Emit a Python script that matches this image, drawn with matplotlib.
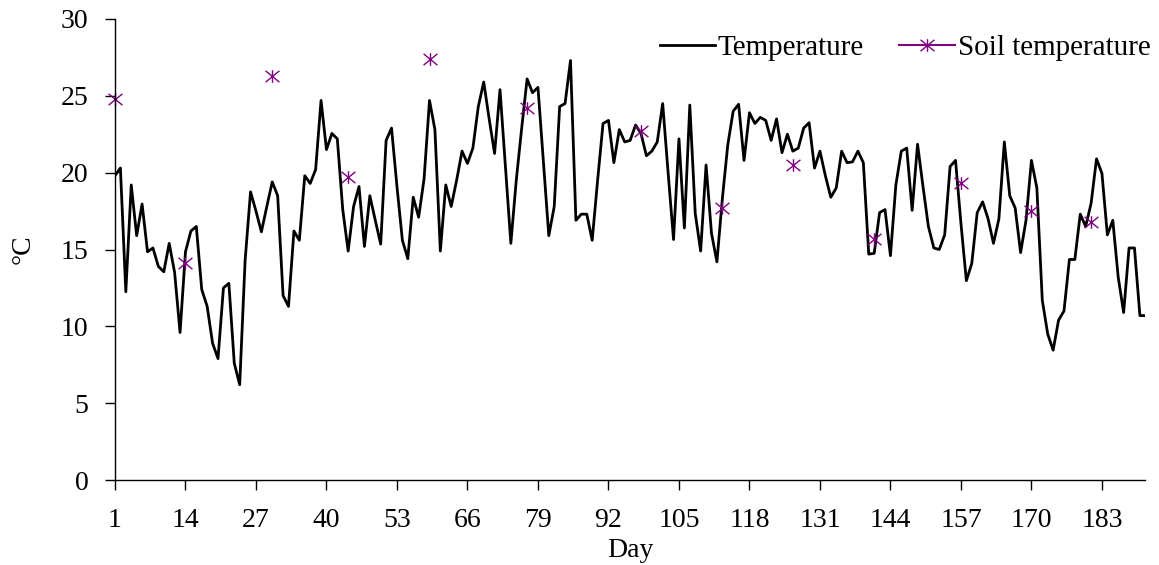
import matplotlib
matplotlib.use("Agg")
import matplotlib.pyplot as plt
import numpy as np
from matplotlib.path import Path

# daily air temperature, days 1..191
temperature = [
    19.8, 20.3, 12.25, 19.2, 15.9, 17.96, 14.85, 15.1, 13.9, 13.55,
    15.4, 13.5, 9.6, 14.85, 16.2, 16.5, 12.4, 11.3, 8.9, 7.9,
    12.5, 12.8, 7.6, 6.2, 14.3, 18.75, 17.5, 16.15, 17.8, 19.4,
    18.5, 12.0, 11.3, 16.2, 15.6, 19.8, 19.3, 20.2, 24.7, 21.5,
    22.55, 22.2, 17.6, 14.9, 17.8, 19.1, 15.2, 18.5, 16.9, 15.35,
    22.1, 22.9, 19.1, 15.6, 14.4, 18.4, 17.1, 19.6, 24.7, 22.8,
    14.9, 19.2, 17.8, 19.5, 21.4, 20.6, 21.6, 24.3, 25.9, 23.5,
    21.25, 25.4, 20.4, 15.4, 19.5, 22.9, 26.1, 25.2, 25.55, 20.7,
    15.9, 17.8, 24.3, 24.5, 27.3, 16.9, 17.3, 17.3, 15.6, 19.5,
    23.2, 23.4, 20.65, 22.8, 22.0, 22.1, 23.1, 22.55, 21.1, 21.4,
    22.0, 24.5, 20.0, 15.65, 22.2, 16.4, 24.4, 17.35, 14.9, 20.5,
    16.05, 14.2, 18.3, 21.8, 24.0, 24.45, 20.8, 23.9, 23.2, 23.6,
    23.4, 22.1, 23.5, 21.3, 22.5, 21.4, 21.6, 22.9, 23.25, 20.3,
    21.4, 19.8, 18.4, 19.0, 21.4, 20.65, 20.7, 21.4, 20.65, 14.7,
    14.75, 17.4, 17.6, 14.6, 19.2, 21.4, 21.6, 17.55, 21.85, 19.1,
    16.5, 15.1, 15.0, 15.95, 20.4, 20.8, 16.7, 12.97, 14.1, 17.4,
    18.1, 17.0, 15.4, 17.0, 22.0, 18.5, 17.7, 14.8, 16.9, 20.8,
    19.0, 11.7, 9.5, 8.45, 10.4, 11.0, 14.35, 14.35, 17.3, 16.5,
    18.0, 20.9, 19.95, 15.95, 16.9, 13.2, 10.9, 15.1, 15.1, 10.7,
    10.7,
]
days = np.arange(1, len(temperature) + 1)

# soil temperature, measured on a few days only
soil_days = [1, 14, 30, 44, 59, 77, 98, 113, 126, 141, 157, 170, 181]
soil_temp = [24.8, 14.1, 26.3, 19.7, 27.4, 24.2, 22.7, 17.7, 20.5, 15.7, 19.35, 17.5, 16.8]

xtick_days = list(range(1, 184, 13))

# full series with gaps, like the spreadsheet
soil_series = np.full(len(days), np.nan)
for d, v in zip(soil_days, soil_temp):
    soil_series[d - 1] = v

plt.rcParams["font.family"] = ["Liberation Serif", "DejaVu Serif"]
plt.rcParams["font.size"] = 20

# asterisk marker: vertical bar plus an X
star = Path([(0, -1), (0, 1), (-1.1, -0.9), (1.1, 0.9), (-1.1, 0.9), (1.1, -0.9)],
            [Path.MOVETO, Path.LINETO, Path.MOVETO, Path.LINETO, Path.MOVETO, Path.LINETO])

fig = plt.figure(figsize=(11.59, 5.65), dpi=100)
ax = fig.add_axes([0.0992, 0.1504, 0.889, 0.816])

ax.plot(days, temperature, color="black", lw=2, label="Temperature")
ax.plot(days, soil_series, color="#800080", lw=1.5, marker=star, markersize=10,
        markeredgewidth=1.0, label="Soil temperature", clip_on=False)

ax.set_xlim(1, len(days))
ax.set_ylim(0, 30)
ax.set_xticks(xtick_days)
ax.set_yticks(range(0, 31, 5))
ax.tick_params(direction="out", length=7, width=1)
ax.tick_params(axis="x", pad=13)
ax.tick_params(axis="y", pad=12)
for s in ["top", "right"]:
    ax.spines[s].set_visible(False)
ax.spines["left"].set_linewidth(1)
ax.spines["bottom"].set_linewidth(1)

ax.set_xlabel("Day", labelpad=4)
ax.set_ylabel("°C", labelpad=18)

fig.legend(loc="upper right", bbox_to_anchor=(1162 / 1159, 1 - 23 / 565), ncol=2,
           frameon=False, handlelength=1.9, handletextpad=0.1, columnspacing=1.2,
           borderaxespad=0, fontsize=21)

fig.savefig("out.png", dpi=100)
